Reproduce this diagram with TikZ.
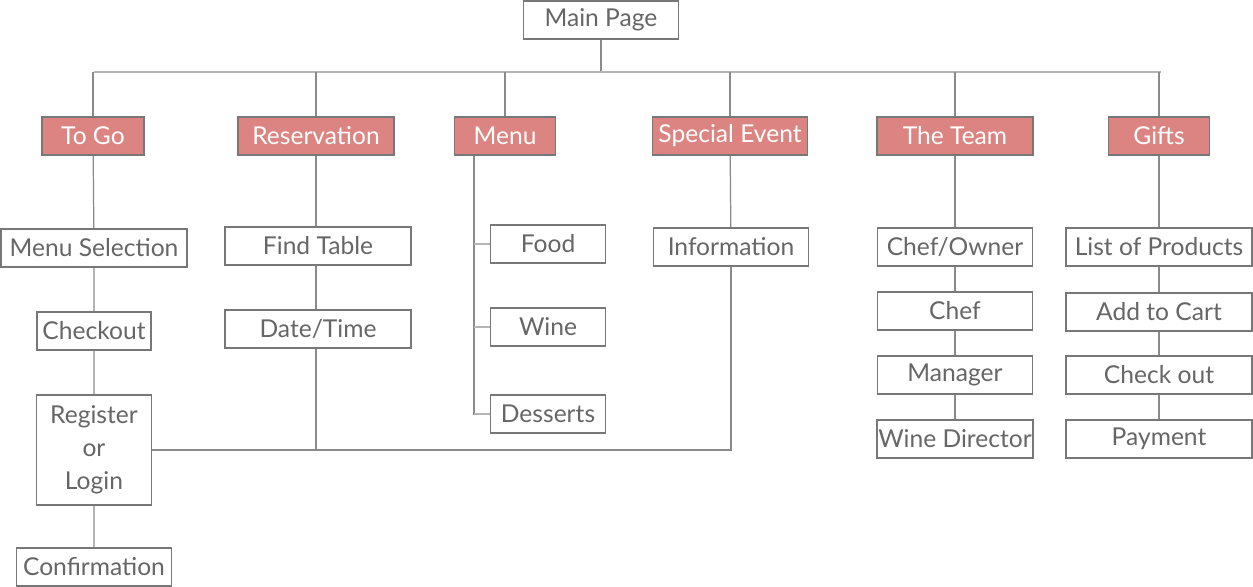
\documentclass[tikz,border=0pt]{standalone}
\usepackage{fontspec}
\setmainfont{Lato}
\usepackage{tikz}
\usetikzlibrary{positioning}
\definecolor{boxline}{HTML}{777777}
\definecolor{linkgray}{HTML}{8A8A8A}
\definecolor{lightlink}{HTML}{B5B5B5}
\definecolor{headrose}{HTML}{DB8481}
\definecolor{labelgray}{HTML}{666666}

\begin{document}
\begin{tikzpicture}[x=0.02cm, y=-0.02cm, font=\fontsize{14}{16}\selectfont]
    \tikzstyle{page} = [rectangle, draw=boxline, line width=1.1pt, fill=white, text=labelgray,
      minimum height=0.76cm, inner xsep=0.5pt, inner ysep=2pt, align=center]
    \tikzstyle{section} = [page, fill=headrose, text=white]
    \tikzstyle{link} = [draw=linkgray, line width=0.7pt]
    \tikzstyle{lightlink} = [draw=lightlink, line width=0.9pt]

    \useasboundingbox (0,0) rectangle (1253,587);

    % top level
    \node (main) [page, minimum width=3.1cm] at (601,20) {Main Page};
    \coordinate (busL) at (94,72);
    \coordinate (busR) at (1161,72);

    % sections
    \node (togo) [section, minimum width=2.04cm] at (93,136) {To Go};
    \node (resv) [section, minimum width=3.12cm] at (316,136) {Reservation};
    \node (menu) [section, minimum width=2.02cm] at (505,136) {Menu};
    \node (event) [section, minimum width=3.1cm] at (730,136) {Special Event};
    \node (team) [section, minimum width=3.12cm] at (955,136) {The Team};
    \node (gifts) [section, minimum width=2.02cm] at (1159,136) {Gifts};

    % to go
    \node (menusel) [page, minimum width=3.72cm] at (94,248) {Menu Selection};
    \node (checkout) [page, minimum width=2.28cm] at (94,331) {Checkout};
    \node (register) [page, minimum width=2.3cm, minimum height=2.2cm] at (94,450)
      {Register\\[2.7pt] or\\[2.7pt] Login};
    \node (confirm) [page, minimum width=3.1cm] at (94,567) {Confirmation};

    % reservation
    \node (findtable) [page, minimum width=3.72cm] at (318,246) {Find Table};
    \node (datetime) [page, minimum width=3.72cm] at (318,329) {Date/Time};

    % menu
    \coordinate (spine) at (474,0);
    \node (food) [page, minimum width=2.3cm] at (548,244) {Food};
    \node (wine) [page, minimum width=2.3cm] at (548,327) {Wine};
    \node (desserts) [page, minimum width=2.3cm] at (548,414) {Desserts};

    % special event
    \node (info) [page, minimum width=3.1cm] at (731,247) {Information};

    % the team
    \node (owner) [page, minimum width=3.1cm] at (955,247) {Chef/Owner};
    \node (chef) [page, minimum width=3.1cm] at (955,311) {Chef};
    \node (manager) [page, minimum width=3.1cm] at (955,375) {Manager};
    \node (winedir) [page, minimum width=3.1cm] at (955,439) {Wine Director};

    % gifts
    \node (products) [page, minimum width=3.72cm] at (1159,247) {List of Products};
    \node (cart) [page, minimum width=3.72cm] at (1159,312) {Add to Cart};
    \node (checkout2) [page, minimum width=3.72cm] at (1159,375) {Check out};
    \node (payment) [page, minimum width=3.72cm] at (1159,439) {Payment};

    % connectors
    \draw [link] (main.south) -- (main.south |- busL);
    \draw [lightlink] (busL) -- (busR);
    \foreach \s in {togo, resv, menu, event, team, gifts}
      \draw [link] (\s.north) -- (\s.north |- busL);

    \draw [link] (togo) -- (menusel) -- (checkout) -- (register) -- (confirm);

    \draw [link] (resv.south) -- (resv.south |- findtable.north);
    \draw [link] (resv.south |- findtable.south) -- (resv.south |- datetime.north);
    \draw [link] (resv.south |- datetime.south) -- (resv.south |- register.east);
    \draw [link] (register.east) -| (info.south);

    \draw [link] (menu.south -| spine) |- (desserts.west);
    \draw [lightlink] (spine |- food.west) -- (food.west);
    \draw [lightlink] (spine |- wine.west) -- (wine.west);
    \draw [lightlink] (spine |- desserts.west) -- (desserts.west);

    \draw [link] (event) -- (info);

    \draw [link] (team) -- (owner) -- (chef) -- (manager) -- (winedir);
    \draw [link] (gifts) -- (products) -- (cart) -- (checkout2) -- (payment);
\end{tikzpicture}
\end{document}
